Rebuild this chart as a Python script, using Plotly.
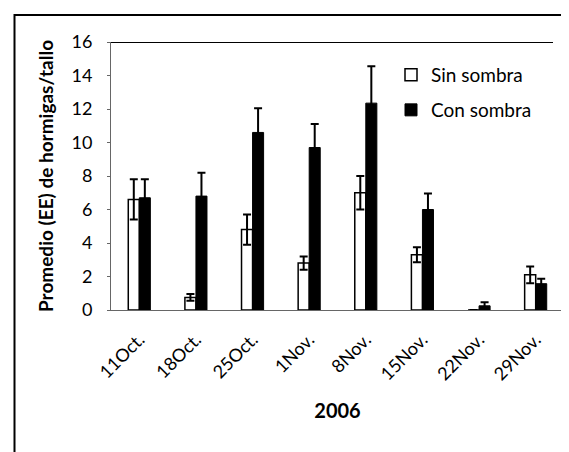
import plotly.graph_objects as go

categories = ["11Oct.", "18Oct.", "25Oct.", "1Nov.", "8Nov.", "15Nov.", "22Nov.", "29Nov."]
sin_sombra = [6.6, 0.75, 4.8, 2.8, 7.0, 3.3, 0.0, 2.1]
sin_sombra_ee = [1.2, 0.2, 0.9, 0.4, 1.0, 0.45, 0.0, 0.5]
con_sombra = [6.7, 6.8, 10.6, 9.7, 12.35, 6.0, 0.25, 1.57]
con_sombra_ee = [1.1, 1.4, 1.45, 1.4, 2.2, 0.95, 0.22, 0.3]

FONT = "Lato"

fig = go.Figure()
fig.add_trace(go.Bar(
    x=categories, y=sin_sombra, name="Sin sombra",
    marker=dict(color="white", line=dict(color="black", width=1.5)),
    error_y=dict(type="data", array=sin_sombra_ee, visible=True,
                 color="black", thickness=2, width=4),
    legend="legend",
))
fig.add_trace(go.Bar(
    x=categories, y=con_sombra, name="Con sombra",
    marker=dict(color="black", line=dict(color="black", width=1)),
    error_y=dict(type="data", array=con_sombra_ee, visible=True,
                 color="black", thickness=2, width=4),
    legend="legend2",
))

L, R, T, B = 103, 13, 34, 150
W, H = 569, 452
pw = W - L - R
ph = H - T - B

def px(x):
    return (x - L) / pw

def py(y):
    return (H - B - y) / ph

fig.update_layout(
    width=W, height=H,
    margin=dict(l=L, r=R, t=T, b=B),
    paper_bgcolor="white", plot_bgcolor="white",
    barmode="group", bargap=0.61, bargroupgap=0,
    font=dict(family=FONT, color="black", size=17),
    showlegend=True,
    legend=dict(x=px(383), y=py(67), xanchor="left", yanchor="middle",
                font=dict(size=19, family=FONT), bgcolor="rgba(0,0,0,0)",
                itemwidth=30, tracegroupgap=0),
    legend2=dict(x=px(383), y=py(102), xanchor="left", yanchor="middle",
                 font=dict(size=19, family=FONT), bgcolor="rgba(0,0,0,0)",
                 itemwidth=30, tracegroupgap=0),
    xaxis=dict(
        tickangle=-45, tickfont=dict(size=18, family=FONT),
        ticklabelstandoff=11, ticklabelshift=0,
        showline=True, linecolor="#666", linewidth=1,
        ticks="", showgrid=False,
        title=dict(text="<b>2006</b>", font=dict(size=20, family=FONT), standoff=20),
    ),
    yaxis=dict(
        range=[0, 16], tickvals=list(range(0, 17, 2)),
        tickfont=dict(size=18, family=FONT),
        ticklabelstandoff=11,
        showline=True, linecolor="#666", linewidth=1,
        ticks="outside", ticklen=3, tickcolor="#666",
        showgrid=False, zeroline=False,
        title=dict(text="<b>Promedio (EE) de hormigas/tallo</b>",
                   font=dict(size=19, family=FONT), standoff=12),
    ),
    shapes=[
        dict(type="line", xref="paper", yref="y", x0=0, x1=px(545), y0=16, y1=16,
             line=dict(color="black", width=2)),
        dict(type="line", xref="paper", yref="paper", x0=px(6.5), x1=px(6.5),
             y0=py(6), y1=py(452), line=dict(color="black", width=2)),
        dict(type="line", xref="paper", yref="paper", x0=px(6), x1=px(569),
             y0=py(7), y1=py(7), line=dict(color="black", width=2)),
    ],
)

fig.write_html("out.html")
